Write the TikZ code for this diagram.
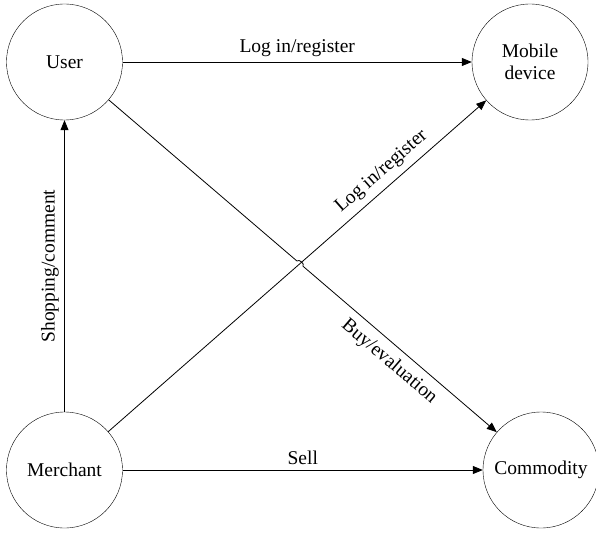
\documentclass[tikz,border=0pt]{standalone}
\usepackage{fontspec}
\setmainfont{Liberation Serif}
\usetikzlibrary{arrows.meta,calc}

\begin{document}
\begin{tikzpicture}[x=1pt, y=-1pt,
    entity/.style={draw, circle, minimum size=116pt, inner sep=0pt, align=center, font=\fontsize{19.5}{22}\selectfont},
    link/.style={-{Triangle[length=10pt, width=8pt]}, line width=0.8pt},
    lbl/.style={font=\fontsize{19.5}{22}\selectfont}]
  \useasboundingbox (0,0) rectangle (596,532);
  \node[entity] (user) at (64.5,62) {User};
  \node[entity] (mobile) at (530,62) {Mobile\\device};
  \node[entity] (merchant) at (64.5,470) {Merchant};
  \node[entity] (commodity) at (541,470) {Commodity};
  \coordinate (cross) at (intersection of user--commodity and merchant--mobile);
  \coordinate (hopa) at ($(cross)!4pt!(user)$);
  \coordinate (hopb) at ($(cross)!4pt!(commodity)$);
  \draw[link] (user) -- (mobile) node[lbl, midway, above=2pt] {Log in/register};
  \draw[link] (merchant) -- (user) node[lbl, midway, sloped, above=2pt] {Shopping/comment};
  \draw[link] (merchant) -- (mobile) node[lbl, pos=0.75, sloped, above=3pt] {Log in/register};
  \draw[link] (user) -- (hopa) to[bend left=90] (hopb) -- (commodity) node[lbl, pos=0.5, sloped, below=4pt] {Buy/evaluation};
  \draw[link] (merchant) -- (commodity) node[lbl, midway, above=2pt] {Sell};
\end{tikzpicture}
\end{document}
